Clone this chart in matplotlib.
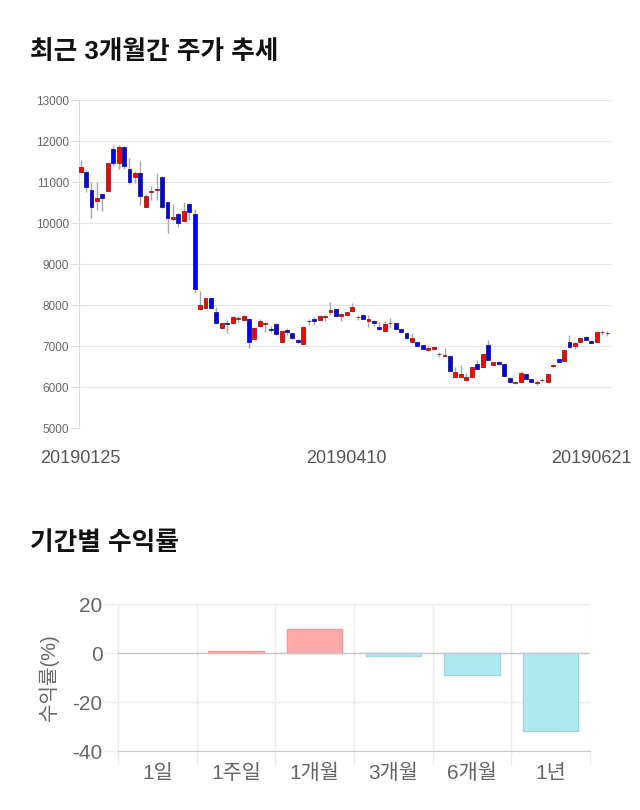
#Recent 3-month price trend (candles) and period returns

import numpy as np
import matplotlib
matplotlib.use("Agg")
import matplotlib.pyplot as plt

plt.rcParams['font.family'] = ['Liberation Sans', 'Noto Sans CJK KR', 'DejaVu Sans']
plt.rcParams['axes.unicode_minus'] = False

# daily candles, 2019-01-25 .. 2019-06-21
opens = [11250, 11250, 10800, 10540, 10700, 10790, 11800, 11460, 11850, 11310,
         11120, 11210, 10400, 10760, 10800, 11120, 10510, 10100, 10210, 10060,
         10460, 10210, 7900, 7920, 8170, 7840, 7430, 7570, 7570, 7670,
         7630, 7650, 7160, 7490, 7530, 7420, 7530, 7110, 7380, 7310,
         7150, 7050, 7620, 7660, 7640, 7710, 7840, 7900, 7730, 7760,
         7860, 7700, 7760, 7600, 7620, 7470, 7370, 7560, 7560, 7410,
         7310, 7090, 7110, 7020, 6900, 6920, 6800, 6760, 6760, 6250,
         6250, 6160, 6250, 6560, 6490, 7020, 6540, 6610, 6560, 6210,
         6090, 6120, 6320, 6190, 6100, 6160, 6120, 6520, 6680, 6640,
         7100, 7000, 7110, 7210, 7130, 7110, 7340, 7320]
highs = [11530, 11300, 11000, 11000, 10700, 11460, 11900, 11900, 11870, 11580,
         11270, 11520, 10700, 10900, 11230, 11150, 10520, 10460, 10250, 10510,
         10500, 10330, 8330, 8180, 8190, 7950, 7560, 7630, 7740, 7720,
         7760, 7680, 7460, 7650, 7590, 7480, 7560, 7380, 7430, 7320,
         7160, 7480, 7650, 7710, 7740, 7760, 8080, 7910, 7800, 7830,
         8040, 7760, 7780, 7760, 7630, 7580, 7600, 7680, 7570, 7420,
         7320, 7310, 7120, 7030, 7020, 7000, 6860, 6940, 6770, 6490,
         6540, 6330, 6500, 6660, 6810, 7150, 6620, 6640, 6570, 6240,
         6140, 6380, 6340, 6200, 6170, 6210, 6330, 6560, 6690, 6930,
         7270, 7100, 7200, 7250, 7150, 7360, 7390, 7360]
lows = [11230, 10760, 10120, 10320, 10300, 10790, 11380, 11320, 11320, 10960,
        10980, 10440, 10390, 10560, 10560, 10360, 9750, 10080, 9900, 10050,
        10070, 8300, 7890, 7920, 7920, 7550, 7420, 7310, 7560, 7560,
        7620, 6950, 7150, 7480, 7340, 7340, 7280, 7100, 7270, 7180,
        7080, 7040, 7510, 7520, 7630, 7600, 7760, 7720, 7610, 7750,
        7850, 7640, 7650, 7470, 7490, 7400, 7360, 7440, 7410, 7320,
        7180, 7080, 7000, 6920, 6890, 6910, 6740, 6750, 6390, 6240,
        6240, 6150, 6240, 6430, 6480, 6650, 6530, 6540, 6270, 6100,
        6080, 6110, 6190, 6110, 6050, 6120, 6110, 6460, 6610, 6630,
        6950, 6930, 7100, 7140, 7070, 7100, 7270, 7250]
closes = [11370, 10880, 10390, 10600, 10600, 11460, 11460, 11850, 11380, 11010,
          11210, 10660, 10660, 10780, 10830, 10400, 10120, 10150, 9990, 10300,
          10260, 8380, 8000, 8160, 7920, 7570, 7550, 7530, 7700, 7690,
          7730, 7110, 7450, 7600, 7550, 7390, 7290, 7370, 7340, 7190,
          7090, 7470, 7600, 7620, 7720, 7720, 7880, 7730, 7770, 7820,
          7950, 7715, 7660, 7660, 7570, 7410, 7530, 7570, 7420, 7330,
          7190, 7190, 7010, 6930, 6960, 6980, 6810, 6780, 6400, 6370,
          6320, 6250, 6490, 6440, 6800, 6660, 6610, 6570, 6280, 6110,
          6130, 6340, 6200, 6120, 6130, 6180, 6320, 6540, 6620, 6900,
          6970, 7080, 7190, 7150, 7080, 7350, 7350, 7310]
date_labels = ['20190125', '20190410', '20190621']
date_label_idx = [0, 49, 94]

# period returns (%)
periods = ['1일', '1주일', '1개월', '3개월', '6개월', '1년']
returns = [0.0, 1.0, 9.9, -1.4, -8.8, -32.0]

fig = plt.figure(figsize=(6.4, 8.1), dpi=100)

# ---------- candlestick chart ----------
o = np.array(opens)
h = np.array(highs)
l = np.array(lows)
c = np.array(closes)
x = np.arange(len(o))
up = c >= o

ax1 = fig.add_axes([0.1234, 0.4716, 0.8326, 0.4049])
ax1.vlines(x, l, h, color='#a8a8a8', lw=1, zorder=2)
body = np.maximum(np.abs(c - o), 12)
ax1.bar(x, body, bottom=np.minimum(o, c), width=0.72,
        color=np.where(up, '#ff0000', '#0000ff'),
        edgecolor=np.where(up, '#9a1a1a', '#1a1a8a'), lw=0.6, zorder=3)

ax1.set_xlim(-0.3, len(o) - 0.2)
ax1.set_ylim(5000, 13000)
ax1.set_yticks(np.arange(5000, 13001, 1000))
ax1.grid(axis='y', color='#e6e6e6', lw=0.8)
ax1.set_axisbelow(True)
ax1.set_xticks(date_label_idx)
ax1.set_xticklabels(date_labels)
ax1.tick_params(axis='x', length=0, pad=16, labelsize=13, labelcolor='#555555')
ax1.tick_params(axis='y', length=6, width=0.8, color='#dcdcdc', pad=1,
                labelsize=8.5, labelcolor='#666666')
for s in ['top', 'right', 'bottom']:
    ax1.spines[s].set_visible(False)
ax1.spines['left'].set_color('#dcdcdc')

fig.text(30 / 640, 1 - 52 / 810, '최근 3개월간 주가 추세', fontsize=18.5,
         fontweight='bold', va='center', ha='left', color='#111111')

# ---------- returns bar chart ----------
ax2 = fig.add_axes([0.1844, 0.0728, 0.7375, 0.1815])
bar_col = ['#ffa8a8' if r >= 0 else '#aee9f2' for r in returns]
edge_col = ['none' if r == 0 else ('#f09a9a' if r > 0 else '#9fd8e2') for r in returns]
ax2.bar(np.arange(len(periods)), returns, width=0.7, color=bar_col,
        edgecolor=edge_col, lw=1, zorder=3)
ax2.axhline(0, color='#c8c8c8', lw=1, zorder=4)

ax2.set_xlim(-0.5, len(periods) - 0.5)
ax2.set_ylim(-40, 20)
ax2.set_yticks([-40, -20, 0, 20])
ax2.set_xticks(np.arange(len(periods)))
ax2.set_xticklabels(periods)
ax2.set_xticks(np.arange(len(periods) + 1) - 0.5, minor=True)
ax2.grid(axis='y', color='#ebebeb', lw=1)
ax2.grid(axis='x', which='minor', color='#ebebeb', lw=1)
ax2.set_axisbelow(True)
ax2.tick_params(axis='x', which='major', length=0, pad=9, labelsize=15,
                labelcolor='#666666')
ax2.tick_params(axis='x', which='minor', length=10, color='#ebebeb', width=1)
ax2.tick_params(axis='y', length=10, color='#ebebeb', width=1, pad=1,
                labelsize=15, labelcolor='#666666')
ax2.set_ylabel('수익률(%)', fontsize=14.5, color='#666666', labelpad=10)
for s in ['top', 'right']:
    ax2.spines[s].set_visible(False)
ax2.spines['left'].set_color('#ebebeb')
ax2.spines['bottom'].set_color('#c8c8c8')

fig.text(30 / 640, 1 - 543 / 810, '기간별 수익률', fontsize=18.5,
         fontweight='bold', va='center', ha='left', color='#111111')

plt.savefig('out.png', dpi=100)
